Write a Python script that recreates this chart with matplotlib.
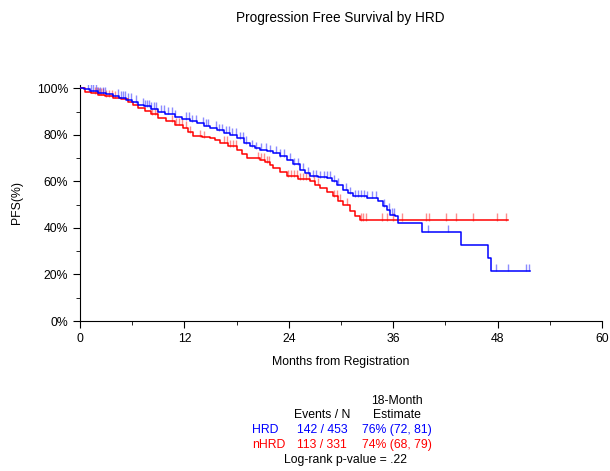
import numpy as np
import matplotlib
matplotlib.use('Agg')
import matplotlib.pyplot as plt
from matplotlib.ticker import MultipleLocator, FuncFormatter

plt.rcParams['font.family'] = ['Liberation Sans', 'DejaVu Sans']

# step curves: time of each drop (months) and PFS level after it (%)
hrd_t = [0, 0.5, 1.2, 2.1, 3.0, 3.8, 4.5, 5.3, 6.0, 6.7, 7.4, 8.2, 9.0, 9.8, 10.9, 11.7,
         12.6, 13.4, 14.2, 14.9, 15.8, 16.5, 17.2, 18.0, 18.8, 19.5, 20.1, 20.7, 21.5, 22.2,
         23.0, 23.8, 24.5, 25.3, 25.9, 26.4, 27.4, 28.4, 29.0, 29.5, 30.2, 30.8, 31.4, 33.0,
         34.3, 34.8, 35.3, 35.6, 36.2, 36.6, 39.3, 43.8, 46.9, 47.2]
hrd_s = [100, 99.6, 99.0, 98.0, 97.5, 96.8, 96.0, 95.2, 94.2, 93.1, 92.4, 91.3, 90.1, 89.2,
         87.9, 86.9, 85.9, 85.0, 84.0, 83.2, 82.0, 81.0, 80.2, 78.5, 76.6, 75.1, 74.4, 73.7,
         73.0, 72.4, 71.0, 69.4, 67.5, 65.1, 63.5, 62.2, 61.9, 61.6, 60.0, 58.6, 56.5, 55.0,
         53.6, 53.0, 51.4, 49.5, 47.8, 45.7, 45.0, 42.2, 38.4, 32.8, 27.3, 21.7]
hrd_end = 51.7

nhrd_t = [0, 0.6, 1.3, 2.1, 2.9, 3.8, 4.7, 5.5, 6.1, 6.7, 7.5, 8.2, 9.0, 9.9, 10.9, 11.8,
          12.4, 13.0, 14.0, 14.9, 15.5, 16.1, 17.0, 18.0, 18.6, 19.2, 20.0, 20.7, 21.3, 21.8,
          22.2, 23.0, 23.8, 25.0, 26.4, 27.0, 27.6, 28.4, 29.1, 29.7, 30.2, 31.0, 31.6, 32.2]
nhrd_s = [100, 98.7, 98.0, 97.3, 96.6, 96.0, 95.3, 94.0, 92.8, 91.5, 90.5, 89.0, 87.2, 85.9,
          84.5, 83.2, 81.2, 79.4, 79.1, 78.9, 77.8, 76.7, 75.2, 73.7, 72.0, 70.3, 69.9, 69.4,
          68.3, 67.2, 65.9, 64.0, 62.2, 61.0, 60.0, 58.6, 57.3, 55.4, 53.6, 51.8, 50.0, 47.1,
          45.2, 43.5]
nhrd_end = 49.2

# censoring times (months)
hrd_cens = [0.9, 1.3, 1.5, 1.8, 2.1, 2.3, 2.6, 2.9, 4.4, 4.7, 4.9, 5.2, 5.5, 5.9, 6.4, 7.2, 7.5,
            7.7, 7.9, 8.2, 8.5, 8.7, 9.3, 9.7, 10.1, 10.6, 10.9, 12.2, 12.5, 12.9, 13.3, 14.1,
            14.5, 14.7, 15.6, 16.0, 16.3, 16.8, 17.1, 17.5, 17.9, 18.4, 18.7, 19.1, 19.8, 20.2,
            20.8, 21.4, 21.8, 22.5, 23.0, 23.4, 24.1, 24.6, 25.1, 25.6, 26.2, 26.8, 27.1, 27.6,
            28.0, 28.4, 28.7, 29.2, 29.7, 30.6, 31.0, 31.6, 32.0, 32.3, 32.6, 33.0, 33.6, 34.0,
            34.9, 35.5, 35.9, 36.1, 40.0, 42.3, 47.8, 49.2, 51.3, 51.6]
nhrd_cens = [1.7, 2.0, 2.2, 2.4, 2.6, 3.0, 3.3, 3.7, 4.0, 8.3, 8.6, 8.9, 10.6, 11.0, 11.4, 11.7,
             12.2, 12.6, 13.8, 14.3, 16.6, 16.9, 17.2, 17.6, 17.9, 20.5, 20.8, 21.1, 21.5, 21.7,
             23.9, 24.3, 24.6, 24.9, 25.3, 25.6, 26.0, 26.3, 26.9, 27.4, 29.2, 29.5, 29.9, 30.7,
             32.3, 32.5, 32.9, 34.7, 35.3, 36.0, 37.0, 39.8, 40.1, 42.1, 43.2, 45.2, 47.9, 49.0]

groups = ["HRD", "nHRD"]
events = ["142 / 453", "113 / 331"]
estimates = ["76% (72, 81)", "74% (68, 79)"]
colors = ["#0000ff", "#ff0000"]


def draw_curve(ax, t, s, end, cens, color):
    tt = np.append(t, end)
    ss = np.append(s, s[-1])
    ax.step(tt, ss, where='post', color=color, linewidth=1.1, zorder=3)
    cens = np.asarray(cens)
    idx = np.searchsorted(t, cens, side='right') - 1
    lev = np.asarray(s)[idx]
    ax.vlines(cens, lev - 0.3, lev + 2.8, color=color, alpha=0.45, linewidth=1.0, zorder=2)


fig = plt.figure(figsize=(6.10, 4.71), dpi=100)
ax = fig.add_axes([80 / 610, 1 - 321 / 471, 522 / 610, 236 / 471])

draw_curve(ax, nhrd_t, nhrd_s, nhrd_end, nhrd_cens, colors[1])
draw_curve(ax, hrd_t, hrd_s, hrd_end, hrd_cens, colors[0])

ax.set_xlim(0, 60)
ax.set_ylim(0, 101.5)
ax.spines['top'].set_visible(False)
ax.spines['right'].set_visible(False)
ax.xaxis.set_major_locator(MultipleLocator(12))
ax.xaxis.set_minor_locator(MultipleLocator(6))
ax.yaxis.set_major_locator(MultipleLocator(20))
ax.yaxis.set_minor_locator(MultipleLocator(10))
ax.yaxis.set_major_formatter(FuncFormatter(lambda v, p: "{:d}%".format(int(round(v)))))
ax.tick_params(which='major', length=5, labelsize=8.8, direction='out')
ax.tick_params(which='minor', length=3, direction='out')
ax.set_xlabel("Months from Registration", fontsize=8.8, labelpad=8)
ax.set_ylabel("PFS(%)", fontsize=8.8, labelpad=10)

fig.text(340 / 610, 1 - 18 / 471, "Progression Free Survival by HRD", ha='center', va='center', fontsize=9.8)

# summary table
fs = 8.8
fig.text(397 / 610, 1 - 401 / 471, "18-Month", ha='center', va='center', fontsize=fs)
fig.text(322 / 610, 1 - 415 / 471, "Events / N", ha='center', va='center', fontsize=fs)
fig.text(397 / 610, 1 - 415 / 471, "Estimate", ha='center', va='center', fontsize=fs)
for i, g in enumerate(groups):
    y = 1 - (430 + 15 * i) / 471
    fig.text(252 / 610, y, g, ha='left', va='center', fontsize=fs, color=colors[i])
    fig.text(322 / 610, y, events[i], ha='center', va='center', fontsize=fs, color=colors[i])
    fig.text(397 / 610, y, estimates[i], ha='center', va='center', fontsize=fs, color=colors[i])
fig.text(345 / 610, 1 - 460 / 471, "Log-rank p-value = .22", ha='center', va='center', fontsize=fs)

fig.savefig("out.png", dpi=100)
plt.close(fig)
